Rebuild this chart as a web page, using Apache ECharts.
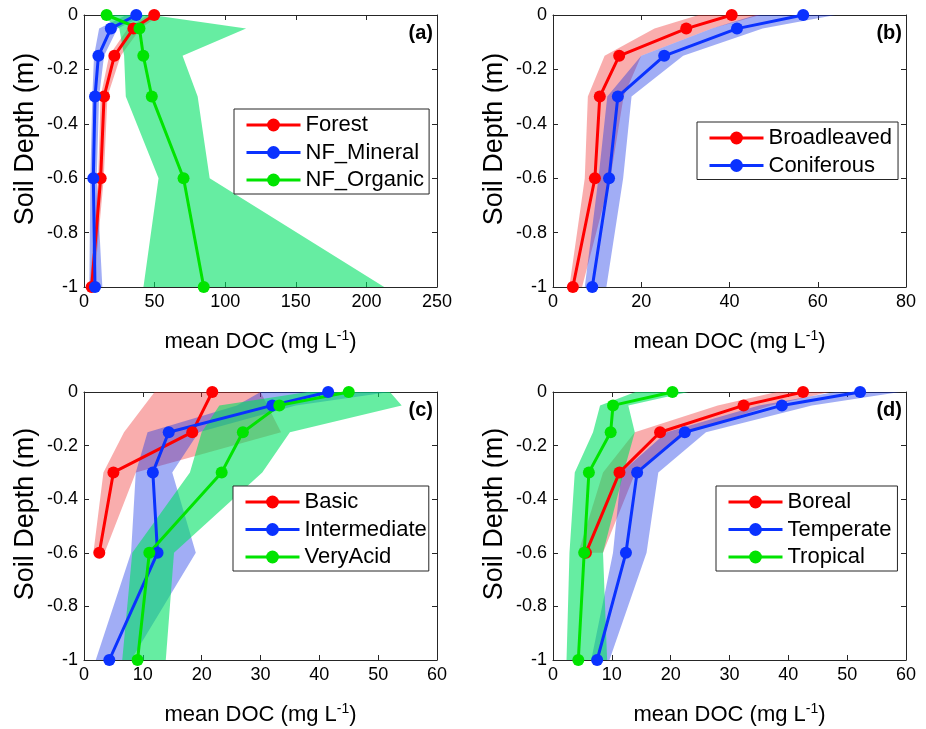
<!DOCTYPE html>
<html><head><meta charset="utf-8">
<script src="https://cdn.jsdelivr.net/npm/echarts@6/dist/echarts.min.js"></script>
<style>html,body{margin:0;padding:0;background:#fff}#c{width:926px;height:729px}</style>
</head><body><div id="c"></div>
<script>
// ---------- data ----------
const depth = [0, -0.05, -0.15, -0.3, -0.6, -1];
const depth4 = [0, -0.15, -0.3, -0.6];
const depth5 = [0, -0.05, -0.15, -0.3, -0.6];
const yTicks = [0, -0.2, -0.4, -0.6, -0.8, -1];

// panel (a)
const forest = [49.7, 35, 21.5, 14.2, 11.8, 5.4];
const forestLo = [45, 31, 17.8, 11.8, 10, 4];
const forestHi = [54, 40, 26, 16.6, 14, 7];
const nfMineral = [37, 19, 10.2, 7.8, 6.6, 7.8];
const nfMineralLo = [30, 10.7, 7.1, 5.9, 4.5, 3.8];
const nfMineralHi = [44, 23.7, 14.2, 10.7, 9, 13];
const nfOrganic = [16, 39.3, 42, 48, 70.5, 84.8];
const nfOrganicLo = [12, 25, 28.4, 29.6, 52.8, 42.1];
const nfOrganicHi = [48, 114.8, 69.8, 80.5, 89, 212.6];

// panel (b)
const broad = [40.5, 30.2, 15, 10.6, 9.5, 4.5];
const broadLo = [33, 23, 11.7, 7.9, 7.2, 3.7];
const broadHi = [47, 36, 20, 16, 13, 6.6];
const conif = [56.7, 41.7, 25.2, 14.7, 12.7, 8.9];
const conifLo = [46, 36, 20, 12.3, 10.3, 7.2];
const conifHi = [64, 47.5, 29.5, 17.8, 15.9, 12.1];

// panel (c)
const basic = [21.8, 18.4, 5.0, 2.6];
const basicLo = [12, 6.8, 3.3, 1.6];
const basicHi = [30, 33.5, 8.8, 3.5];
const inter = [41.5, 32, 14.4, 11.7, 12.5, 4.3];
const interLo = [30, 26, 10.8, 8.8, 8, 2];
const interHi = [52, 36, 19.5, 15, 19, 8];
const veryAcid = [45, 33.2, 27, 23.4, 11.1, 9.1];
const veryAcidLo = [38, 23, 20, 18, 8.2, 6.5];
const veryAcidHi = [52, 54, 35, 30.3, 15.3, 13.9];

// panel (d)
const boreal = [42.5, 32.4, 18.2, 11.3, 5.6];
const borealLo = [38, 28, 13.9, 8.5, 4.3];
const borealHi = [47, 37, 23, 14, 8.5];
const temperate = [52.2, 38.9, 22.4, 14.3, 12.4, 7.5];
const temperateLo = [48, 35, 19.3, 11.6, 10.2, 6.5];
const temperateHi = [59, 44, 26, 17.9, 15.9, 9.6];
const tropical = [20.3, 10.2, 9.8, 6.1, 5.3, 4.3];
const tropicalLo = [14, 8, 6.8, 3.7, 2.8, 2.3];
const tropicalHi = [23, 12.8, 13.9, 12, 8.5, 9.2];

const xMax = [250, 80, 60, 60];
const xStep = [50, 20, 10, 10];
const panelLabels = ['(a)', '(b)', '(c)', '(d)'];

// ---------- styles ----------
const FONT = "'Liberation Sans', Arial, sans-serif";
const RED = '#ff0000', BLUE = '#0a32ff', GREEN = '#00e400';
const RED_B = 'rgba(240,40,40,0.38)', BLUE_B = 'rgba(20,50,230,0.40)', GREEN_B = 'rgba(0,225,100,0.6)';
const AX = '#262626';
const grids = [
  {left: 84, top: 15, width: 353, height: 272},
  {left: 553, top: 15, width: 353, height: 272},
  {left: 84, top: 392, width: 353, height: 271},
  {left: 553, top: 392, width: 353, height: 271}
];

const xAxes = [], yAxes = [];
grids.forEach((g, i) => {
  const common = {
    gridIndex: i, type: 'value', min: 0, max: xMax[i], interval: xStep[i],
    splitLine: {show: false},
    axisLine: {show: true, onZero: false, lineStyle: {color: AX, width: 1}},
    axisTick: {show: true, inside: true, length: 5, lineStyle: {color: AX}}
  };
  xAxes.push(Object.assign({}, common, {
    position: 'bottom',
    axisLabel: {color: '#000', fontSize: 18, fontFamily: FONT, margin: 6},
    name: 'mean DOC (mg L{sup|-1})', nameLocation: 'middle', nameGap: 42,
    nameTextStyle: {color: '#000', fontSize: 22, fontFamily: FONT, lineHeight: 26,
      rich: {sup: {fontSize: 14, fontFamily: FONT, color: '#000', verticalAlign: 'top', lineHeight: 14}}}
  }));
  xAxes.push(Object.assign({}, common, {position: 'top', axisLabel: {show: false}}));
  const ycommon = {
    gridIndex: i, type: 'value', min: -1, max: 0, interval: 0.2,
    splitLine: {show: false},
    axisLine: {show: true, onZero: false, lineStyle: {color: AX, width: 1}},
    axisTick: {show: true, inside: true, length: 5, lineStyle: {color: AX}}
  };
  yAxes.push(Object.assign({}, ycommon, {
    position: 'left',
    axisLabel: {color: '#000', fontSize: 18, fontFamily: FONT, margin: 6},
    name: 'Soil Depth (m)', nameLocation: 'middle', nameGap: 45,
    nameTextStyle: {color: '#000', fontSize: 27, fontFamily: FONT, padding: [0, 0, 0, 24]}
  }));
  yAxes.push(Object.assign({}, ycommon, {position: 'right', axisLabel: {show: false}}));
});

function band(panel, name, dep, lo, hi, color) {
  return {
    type: 'custom', name: name, xAxisIndex: 2 * panel, yAxisIndex: 2 * panel,
    silent: true, z: 1,
    data: dep.map((d, k) => [lo[k], hi[k], d]),
    encode: {x: [0, 1], y: 2},
    renderItem: function (params, api) {
      if (params.dataIndex !== 0) return null;
      const pts = [];
      for (let k = 0; k < dep.length; k++) pts.push(api.coord([lo[k], dep[k]]));
      for (let k = dep.length - 1; k >= 0; k--) pts.push(api.coord([hi[k], dep[k]]));
      return {type: 'polygon', shape: {points: pts}, style: {fill: color, stroke: null}};
    }
  };
}
function line(panel, name, dep, vals, color) {
  return {
    type: 'line', name: name, xAxisIndex: 2 * panel, yAxisIndex: 2 * panel, z: 3,
    data: dep.map((d, k) => [vals[k], d]),
    symbol: 'circle', symbolSize: 12, showSymbol: true,
    lineStyle: {color: color, width: 3},
    itemStyle: {color: color, borderWidth: 0},
    animation: false
  };
}

const series = [
  band(0, 'Forest band', depth, forestLo, forestHi, RED_B),
  band(0, 'NF_Mineral band', depth, nfMineralLo, nfMineralHi, BLUE_B),
  band(0, 'NF_Organic band', depth, nfOrganicLo, nfOrganicHi, GREEN_B),
  line(0, 'Forest', depth, forest, RED),
  line(0, 'NF_Mineral', depth, nfMineral, BLUE),
  line(0, 'NF_Organic', depth, nfOrganic, GREEN),

  band(1, 'Broadleaved band', depth, broadLo, broadHi, RED_B),
  band(1, 'Coniferous band', depth, conifLo, conifHi, BLUE_B),
  line(1, 'Broadleaved', depth, broad, RED),
  line(1, 'Coniferous', depth, conif, BLUE),

  band(2, 'Basic band', depth4, basicLo, basicHi, RED_B),
  band(2, 'Intermediate band', depth, interLo, interHi, BLUE_B),
  band(2, 'VeryAcid band', depth, veryAcidLo, veryAcidHi, GREEN_B),
  line(2, 'Basic', depth4, basic, RED),
  line(2, 'Intermediate', depth, inter, BLUE),
  line(2, 'VeryAcid', depth, veryAcid, GREEN),

  band(3, 'Boreal band', depth5, borealLo, borealHi, RED_B),
  band(3, 'Temperate band', depth, temperateLo, temperateHi, BLUE_B),
  band(3, 'Tropical band', depth, tropicalLo, tropicalHi, GREEN_B),
  line(3, 'Boreal', depth5, boreal, RED),
  line(3, 'Temperate', depth, temperate, BLUE),
  line(3, 'Tropical', depth, tropical, GREEN)
];

function legend(names, left, top, padRight) {
  return {
    data: names, left: left, top: top, orient: 'vertical',
    backgroundColor: '#fff', borderColor: AX, borderWidth: 1, borderRadius: 0,
    padding: [5, padRight, 3, 11], itemGap: 5.5, itemWidth: 54, itemHeight: 16,
    selectedMode: false,
    lineStyle: {width: 3},
    textStyle: {fontSize: 22, fontFamily: FONT, color: '#000', lineHeight: 22}
  };
}

const option = {
  animation: false,
  grid: grids.map(g => Object.assign({containLabel: false}, g)),
  xAxis: xAxes, yAxis: yAxes,
  legend: [
    legend(['Forest', 'NF_Mineral', 'NF_Organic'], 234, 109, 5),
    legend(['Broadleaved', 'Coniferous'], 697, 122, 6),
    legend(['Basic', 'Intermediate', 'VeryAcid'], 233, 486, 2),
    legend(['Boreal', 'Temperate', 'Tropical'], 716, 486, 6)
  ],
  graphic: grids.map((g, i) => ({
    type: 'text', right: 926 - (g.left + g.width) + 4, top: g.top + 8, z: 10,
    style: {text: panelLabels[i], font: "bold 20px 'Liberation Sans', Arial, sans-serif", fill: '#000'}
  })),
  series: series
};
const chart = echarts.init(document.getElementById('c'), null, {renderer: 'canvas'});
chart.setOption(option);
</script></body></html>
